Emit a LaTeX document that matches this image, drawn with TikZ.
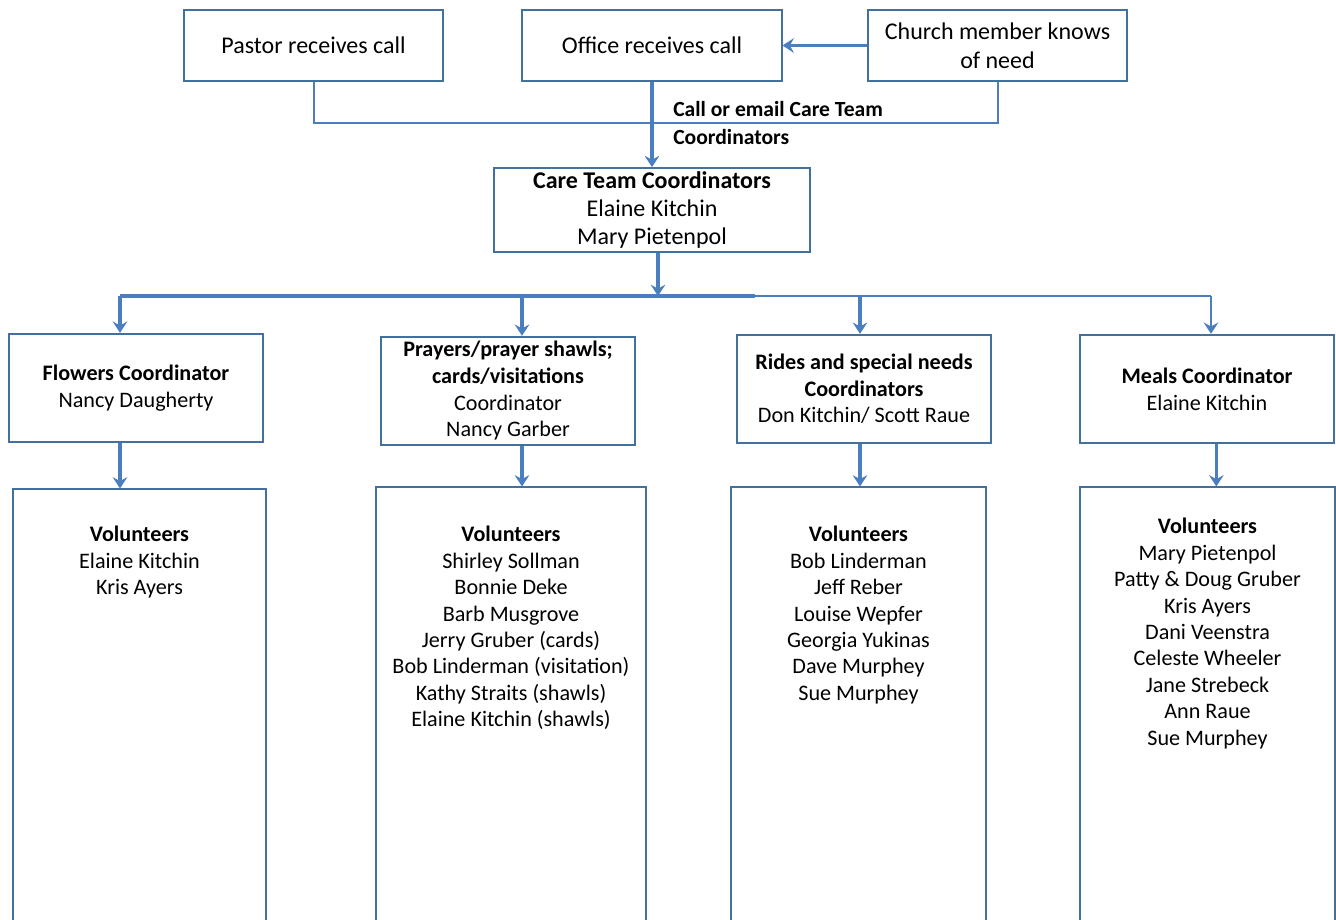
\documentclass[tikz,border=0pt]{standalone}
\usepackage{fontspec}
\setmainfont{Carlito}
\usetikzlibrary{positioning,arrows.meta}
\definecolor{boxblue}{RGB}{65,113,156}
\definecolor{lineblue}{RGB}{74,126,190}

\begin{document}
\begin{tikzpicture}[x=0.75pt,y=-0.75pt,
  every node/.style={font=\fontsize{16.6}{20}\selectfont},
  box/.style={rectangle, draw=boxblue, line width=1.3pt, align=center, inner sep=0pt},
  topbox/.style={box, minimum width=194.5pt, minimum height=53.25pt, font=\fontsize{18}{21.8}\selectfont},
  coordbox/.style={box, minimum width=191pt, minimum height=81.5pt},
  volbox/.style={box, minimum height=328pt},
  names/.style={anchor=north, align=center, inner sep=0pt, font=\fontsize{16.6}{19.8}\selectfont},
  arr/.style={-{Stealth[length=8.5pt,width=11pt,inset=3pt]}, draw=lineblue, line width=2.3pt},
  feed/.style={draw=lineblue, line width=1.5pt}]
  \useasboundingbox (0,0) rectangle (1336,920);

  % who hears about the need
  \node[topbox] (pastor) at (313.5,45.5) {Pastor receives call};
  \node[topbox] (office) at (652,45.5) {Office receives call};
  \node[topbox] (church) at (997.5,45.5) {Church member knows\\of need};
  \node[box, minimum width=237pt, minimum height=63pt, font=\fontsize{18}{21.3}\selectfont] (care) at (652,210)
    {\textbf{Care Team Coordinators}\\Elaine Kitchin\\Mary Pietenpol};
  \node[anchor=north west, align=left, inner sep=0pt, font=\fontsize{16.2}{21}\bfseries] (callnote) at (673,101)
    {Call or email Care Team\\Coordinators};

  \coordinate (feedjoin) at (652,123);
  \draw[feed] (pastor.south) |- (feedjoin) -| (church.south);
  \draw[arr] (church.west) -- (office.east);
  \draw[arr] (office.south) -- (care.north);

  % coordinators
  \node[coordbox] (flowers) at (136,388) {\textbf{Flowers Coordinator}\\Nancy Daugherty};
  \node[coordbox] (prayers) at (508,391)
    {\textbf{Prayers/prayer shawls;}\\\textbf{cards/visitations}\\Coordinator\\Nancy Garber};
  \node[coordbox] (rides) at (864,389)
    {\textbf{Rides and special needs}\\\textbf{Coordinators}\\Don Kitchin/ Scott Raue};
  \node[coordbox] (meals) at (1207,389) {\textbf{Meals Coordinator}\\Elaine Kitchin};

  \coordinate (bus) at (658,296);
  \coordinate (b1) at (120,296);
  \coordinate (b2) at (522,296);
  \coordinate (b3) at (860,296);
  \coordinate (b4) at (1211,296);
  \coordinate (bmid) at (755,296);
  \draw[arr] ([xshift=4.5pt]care.south) -- (bus);
  \draw[draw=lineblue, line width=2.8pt] (b1) -- (bmid);
  \draw[feed] (bmid) -- (b4);
  \draw[arr] (b1) -- (b1 |- flowers.north);
  \draw[arr] (b2) -- (b2 |- prayers.north);
  \draw[arr] (b3) -- (b3 |- rides.north);
  \draw[arr, line width=1.5pt] (b4) -- (b4 |- meals.north);

  % volunteers
  \node[volbox, minimum width=189.75pt] (vol1) at (139.5,708) {};
  \node[volbox, minimum width=202.5pt] (vol2) at (511,706) {};
  \node[volbox, minimum width=191.25pt] (vol3) at (858.5,706) {};
  \node[volbox, minimum width=191.25pt] (vol4) at (1207.5,706) {};

  \node[names] (names1) at (139.5,526) {\textbf{Volunteers}\\Elaine Kitchin\\Kris Ayers};
  \node[names] (names2) at (511,526) {\textbf{Volunteers}\\Shirley Sollman\\Bonnie Deke\\Barb Musgrove\\Jerry Gruber (cards)\\Bob Linderman (visitation)\\Kathy Straits (shawls)\\Elaine Kitchin (shawls)};
  \node[names] (names3) at (858.5,526) {\textbf{Volunteers}\\Bob Linderman\\Jeff Reber\\Louise Wepfer\\Georgia Yukinas\\Dave Murphey\\Sue Murphey};
  \node[names] (names4) at (1207.5,518) {\textbf{Volunteers}\\Mary Pietenpol\\Patty \& Doug Gruber\\Kris Ayers\\Dani Veenstra\\Celeste Wheeler\\Jane Strebeck\\Ann Raue\\Sue Murphey};

  \draw[arr] (flowers.south -| b1) -- (vol1.north -| b1);
  \draw[arr] (prayers.south -| b2) -- (vol2.north -| b2);
  \draw[arr] (rides.south -| b3) -- (vol3.north -| b3);
  \draw[arr] ([xshift=4pt]meals.south -| b4) -- ([xshift=4pt]vol4.north -| b4);
\end{tikzpicture}
\end{document}
